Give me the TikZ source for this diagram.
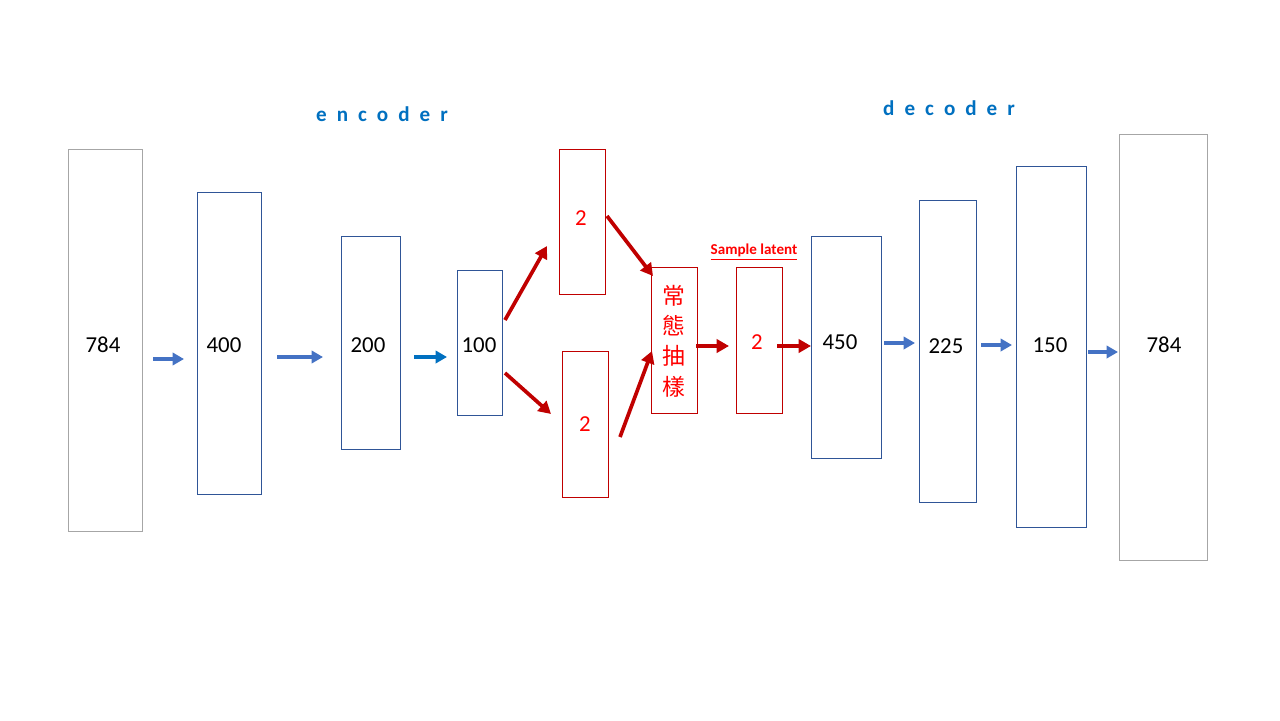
\documentclass[tikz,border=0pt]{standalone}
\usepackage{fontspec}
\setmainfont{Carlito}
\newfontfamily\cjk{Noto Sans CJK TC}
\usetikzlibrary{arrows.meta}
\definecolor{bbox}{HTML}{2F5597}
\definecolor{gbox}{HTML}{A6A6A6}
\definecolor{rbox}{HTML}{C00000}
\definecolor{rtext}{HTML}{FF0000}
\definecolor{barrow}{HTML}{4472C4}
\definecolor{darrow}{HTML}{0070C0}
\definecolor{ltitle}{HTML}{0070C0}
\newcommand\gp{\kern 5.7pt}
\tikzset{
  layerbox/.style={draw=bbox, line width=0.45pt, fill=white},
  graybox/.style={draw=gbox, line width=0.45pt, fill=white},
  redbox/.style={draw=rbox, line width=0.45pt, fill=white},
  num/.style={font=\fontsize{13}{15}\selectfont, text=black, inner sep=0pt},
  rnum/.style={font=\fontsize{13}{15}\selectfont, text=rtext, inner sep=0pt},
  title/.style={font=\fontsize{12}{14}\selectfont\bfseries, text=ltitle, inner sep=0pt},
  barr/.style={draw=barrow, line width=1.9pt, -{Triangle[length=6.5pt,width=7pt]}},
  darr/.style={draw=darrow, line width=1.9pt, -{Triangle[length=6.5pt,width=7pt]}},
  rarr/.style={draw=rbox, line width=2.1pt, -{Triangle[length=7pt,width=7.5pt]}},
}
\begin{document}
\begin{tikzpicture}[x=0.02cm,y=-0.02cm]
\useasboundingbox[fill=white] (0,0) rectangle (1280,720);
% boxes
\draw[graybox] (68,149) rectangle (142,531);
\draw[layerbox] (197,192) rectangle (261,494);
\draw[layerbox] (341,236) rectangle (400,449);
\draw[layerbox] (457,270) rectangle (502,415);
\draw[redbox] (559,149) rectangle (605,294);
\draw[redbox] (562,351) rectangle (608,497);
\draw[redbox] (651,267) rectangle (697,413);
\draw[redbox] (736,267) rectangle (782,413);
\draw[layerbox] (811,236) rectangle (881,458);
\draw[layerbox] (919,200) rectangle (976,502);
\draw[layerbox] (1016,166) rectangle (1086,527);
\draw[graybox] (1119,134) rectangle (1207,560);
% labels
\node[num] (t1) at (103,345) {784};
\node[num] (t2) at (224,345) {400};
\node[num] (t3) at (368,345) {200};
\node[num] (t4) at (479,345) {100};
\node[rnum] (t5) at (581,218) {2};
\node[rnum] (t6) at (585,424) {2};
\node[font=\cjk\fontsize{13}{17.2}\selectfont, text=rtext, align=center, inner sep=0pt] (t7) at (674,341) {常\\態\\抽\\樣};
\node[rnum] (t8) at (757,342) {2};
\node[num] (t9) at (840,342) {450};
\node[num] (t10) at (946,346) {225};
\node[num] (t11) at (1050,345) {150};
\node[num] (t12) at (1164,345) {784};
\node[font=\fontsize{8.6}{10}\selectfont\bfseries, text=rtext, inner sep=0pt] (sl) at (754,252) {\underline{Sample latent}};
\node[title] (enc) at (382,114) {e\gp n\gp c\gp o\gp d\gp e\gp r};
\node[title] (dec) at (949,108) {d\gp e\gp c\gp o\gp d\gp e\gp r};
% arrow anchors
\coordinate (a1s) at (153,359); \coordinate (a1e) at (184,359);
\coordinate (a2s) at (277,357); \coordinate (a2e) at (323,357);
\coordinate (a3s) at (414,357); \coordinate (a3e) at (447,357);
\coordinate (a4s) at (884,343); \coordinate (a4e) at (915,343);
\coordinate (a5s) at (981,345); \coordinate (a5e) at (1012,345);
\coordinate (a6s) at (1088,352); \coordinate (a6e) at (1118,352);
\coordinate (r1s) at (505,320); \coordinate (r1e) at (547,246);
\coordinate (r2s) at (505,373); \coordinate (r2e) at (551,414);
\coordinate (r3s) at (607,216); \coordinate (r3e) at (653,276);
\coordinate (r4s) at (620,437); \coordinate (r4e) at (652,351);
\coordinate (r5s) at (696,346); \coordinate (r5e) at (729,346);
\coordinate (r6s) at (777,346); \coordinate (r6e) at (811,346);
\draw[barr] (a1s) -- (a1e);
\draw[barr] (a2s) -- (a2e);
\draw[darr] (a3s) -- (a3e);
\draw[barr] (a4s) -- (a4e);
\draw[barr] (a5s) -- (a5e);
\draw[barr] (a6s) -- (a6e);
\draw[rarr] (r1s) -- (r1e);
\draw[rarr] (r2s) -- (r2e);
\draw[rarr] (r3s) -- (r3e);
\draw[rarr] (r4s) -- (r4e);
\draw[rarr] (r5s) -- (r5e);
\draw[rarr] (r6s) -- (r6e);
\end{tikzpicture}
\end{document}
